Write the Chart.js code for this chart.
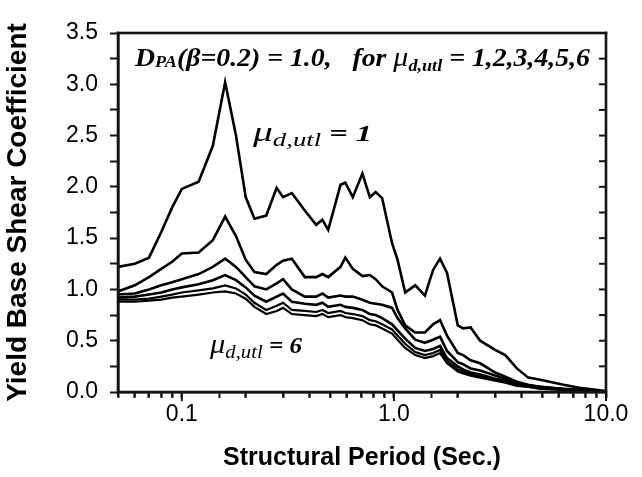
<!DOCTYPE html>
<html>
<head>
<meta charset="utf-8">
<script src="https://cdn.jsdelivr.net/npm/chart.js@4.4.1/dist/chart.umd.min.js"></script>
<style>
  html, body { margin: 0; padding: 0; background: #fff; }
</style>
</head>
<body>
<canvas id="my_chart" width="642" height="477"></canvas>
<script>
// Structural period (sec.) shared by all six curves
const periods = [0.05, 0.06, 0.07, 0.08, 0.09, 0.1, 0.12, 0.14, 0.16, 0.18, 0.2, 0.22, 0.25, 0.28, 0.3, 0.33,
  0.38, 0.43, 0.46, 0.49, 0.56, 0.59, 0.64, 0.71, 0.77, 0.82, 0.88, 0.98, 1.04, 1.13, 1.26, 1.4, 1.53, 1.65,
  1.78, 2.0, 2.12, 2.3, 2.55, 3.0, 3.35, 3.8, 4.3, 4.9, 6.3, 7.5, 10];

// Yield base shear coefficient, one array per ductility (mu = 1..6)
const mu1 = [1.22, 1.25, 1.31, 1.56, 1.80, 1.98, 2.05, 2.40, 3.02, 2.50, 1.90, 1.69, 1.72, 1.99, 1.90, 1.94,
  1.77, 1.63, 1.68, 1.58, 2.02, 2.04, 1.90, 2.13, 1.90, 1.95, 1.89, 1.45, 1.29, 0.97, 1.04, 0.94, 1.19, 1.30,
  1.16, 0.65, 0.62, 0.63, 0.50, 0.41, 0.36, 0.23, 0.14, 0.12, 0.07, 0.04, 0.01];
const mu2 = [0.98, 1.04, 1.12, 1.20, 1.27, 1.35, 1.36, 1.48, 1.71, 1.52, 1.29, 1.17, 1.15, 1.24, 1.28, 1.30,
  1.12, 1.12, 1.15, 1.12, 1.22, 1.31, 1.20, 1.13, 1.14, 1.10, 1.03, 0.97, 0.80, 0.65, 0.58, 0.58, 0.66, 0.70,
  0.55, 0.38, 0.36, 0.31, 0.28, 0.19, 0.15, 0.10, 0.07, 0.05, 0.03, 0.02, 0.0];
const mu3 = [0.95, 0.96, 1.00, 1.04, 1.07, 1.10, 1.15, 1.22, 1.30, 1.22, 1.12, 1.03, 1.00, 1.06, 1.10, 1.00,
  0.93, 0.93, 0.96, 0.92, 0.94, 0.93, 0.93, 0.90, 0.87, 0.86, 0.85, 0.82, 0.72, 0.62, 0.51, 0.48, 0.51, 0.54,
  0.40, 0.29, 0.27, 0.23, 0.21, 0.16, 0.13, 0.09, 0.06, 0.05, 0.03, 0.02, 0.0];
const mu4 = [0.92, 0.93, 0.95, 0.97, 1.00, 1.02, 1.05, 1.09, 1.14, 1.09, 1.02, 0.94, 0.88, 0.93, 0.96, 0.88,
  0.86, 0.85, 0.87, 0.83, 0.85, 0.83, 0.82, 0.80, 0.76, 0.75, 0.72, 0.66, 0.60, 0.52, 0.43, 0.40, 0.42, 0.45,
  0.33, 0.25, 0.22, 0.19, 0.17, 0.13, 0.11, 0.08, 0.06, 0.04, 0.03, 0.02, 0.0];
const mu5 = [0.90, 0.90, 0.91, 0.93, 0.95, 0.97, 0.99, 1.01, 1.04, 1.01, 0.95, 0.87, 0.80, 0.84, 0.87, 0.80,
  0.79, 0.78, 0.80, 0.77, 0.79, 0.77, 0.76, 0.74, 0.70, 0.69, 0.66, 0.61, 0.55, 0.47, 0.39, 0.36, 0.38, 0.41,
  0.30, 0.22, 0.20, 0.17, 0.15, 0.12, 0.10, 0.07, 0.05, 0.04, 0.02, 0.01, 0.0];
const mu6 = [0.88, 0.88, 0.89, 0.90, 0.92, 0.93, 0.95, 0.97, 0.98, 0.96, 0.91, 0.83, 0.76, 0.79, 0.82, 0.76,
  0.75, 0.74, 0.76, 0.73, 0.75, 0.73, 0.72, 0.70, 0.66, 0.65, 0.62, 0.57, 0.51, 0.43, 0.36, 0.33, 0.35, 0.38,
  0.28, 0.20, 0.18, 0.16, 0.14, 0.11, 0.09, 0.06, 0.05, 0.03, 0.02, 0.01, 0.0];

// axis tick labels
const xTickValues = [0.1, 1, 10];
const xTickLabels = ['0.1', '1.0', '10.0'];
const yTickLabels = ['0.0', '0.5', '1.0', '1.5', '2.0', '2.5', '3.0', '3.5'];

const curves = [mu1, mu2, mu3, mu4, mu5, mu6];

const ink = '#141414';
const serif = '"Liberation Serif", serif';

// draw text made of pieces (normal / subscript), squeezed to a given width
function drawRich(ctx, x, y, width, parts) {
  let total = 0;
  parts.forEach(p => { ctx.font = p.font; total += ctx.measureText(p.text).width; });
  ctx.save();
  ctx.translate(x, y);
  ctx.scale(width / total, 1);
  let cx = 0;
  parts.forEach(p => {
    ctx.font = p.font;
    ctx.fillText(p.text, cx, p.dy || 0);
    cx += ctx.measureText(p.text).width;
  });
  ctx.restore();
}

// box round the plot with its tick marks
function drawFrame(chart) {
  const ctx = chart.ctx;
  const {left, right, top, bottom} = chart.chartArea;
  const x = chart.scales.x;
  const y = chart.scales.y;
  ctx.save();
  ctx.fillStyle = ink;
  const w = 2.6;
  ctx.fillRect(left - w / 2, top - w / 2, right - left + w, w);
  ctx.fillRect(left - w / 2, bottom - w / 2, right - left + w, w);
  ctx.fillRect(left - w / 2, top - w / 2, w, bottom - top + w);
  ctx.fillRect(right - w / 2, top - w / 2, w, bottom - top + w);
  for (let i = 0; i <= 14; i++) {
    const py = y.getPixelForValue(i * 0.25);
    ctx.fillRect(right - 7, py - 1, 7, 2);
  }
  [0.01, 0.1, 1, 10].forEach(dec => {
    for (let k = 1; k <= 9; k++) {
      const t = dec * k;
      if (t < 0.0499 || t > 10.001) continue;
      ctx.fillRect(x.getPixelForValue(t) - 1, bottom, 2, k === 1 ? 9 : 5);
    }
  });
  ctx.restore();
}

const notesPlugin = {
  id: 'notes',
  afterDraw(chart) {
    const ctx = chart.ctx;
    ctx.save();
    ctx.fillStyle = '#000';
    ctx.textBaseline = 'alphabetic';
    const big = 'italic bold 26px ' + serif;
    const sub = 'italic bold 17px ' + serif;
    const mu = 'italic 28px ' + serif;
    drawRich(ctx, 135, 66, 455, [
      {text: 'D', font: big},
      {text: 'PA', font: sub, dy: 1},
      {text: '(β=0.2) = 1.0,   for ', font: big},
      {text: 'μ', font: mu},
      {text: 'd,utl', font: sub, dy: 5},
      {text: ' = 1,2,3,4,5,6', font: big}
    ]);
    const big2 = 'italic bold 23px ' + serif;
    const sub2 = 'italic 19px ' + serif;
    drawRich(ctx, 253, 141, 119, [
      {text: 'μ', font: mu},
      {text: 'd,utl', font: sub2, dy: 5},
      {text: ' = 1', font: big2}
    ]);
    drawRich(ctx, 210, 353, 92, [
      {text: 'μ', font: mu},
      {text: 'd,utl', font: sub2, dy: 5},
      {text: ' = 6', font: big2}
    ]);
    ctx.restore();
    drawFrame(chart);
  }
};

const frameBorder = {display: true, color: ink, width: 2.6};

const myChart = new Chart(document.getElementById('my_chart'), {
  type: 'line',
  data: {
    datasets: curves.map((vals, i) => ({
      label: 'mu = ' + (i + 1),
      data: periods.map((t, j) => ({x: t, y: vals[j]})),
      borderColor: '#000',
      borderWidth: i < 4 ? 2.6 : 2.2,
      pointRadius: 0,
      tension: 0,
      fill: false
    }))
  },
  options: {
    responsive: false,
    animation: false,
    layout: {padding: {top: 33, right: 36, left: 0, bottom: 0}},
    plugins: {legend: {display: false}, tooltip: {enabled: false}},
    scales: {
      x: {
        type: 'logarithmic',
        min: 0.05,
        max: 10,
        afterFit: s => { s.height = 85; },
        grid: {drawOnChartArea: false, tickLength: 6, tickColor: ink, tickWidth: 2},
        border: frameBorder,
        ticks: {
          autoSkip: false,
          maxRotation: 0,
          padding: 3,
          color: '#000',
          font: {family: 'Liberation Sans', size: 23},
          callback: v => {
            const i = xTickValues.findIndex(t => Math.abs(t - v) < 1e-6 * t);
            return i < 0 ? '' : xTickLabels[i];
          }
        },
        title: {
          display: true,
          text: 'Structural Period (Sec.)',
          color: '#000',
          font: {family: 'Liberation Sans', size: 25, weight: 'bold'},
          padding: {top: 0, bottom: 4}
        }
      },
      y: {
        min: 0,
        max: 3.5,
        afterFit: s => { s.width = 118; },
        grid: {drawOnChartArea: false, tickLength: 8, tickColor: ink, tickWidth: 2},
        border: frameBorder,
        ticks: {
          stepSize: 0.25,
          autoSkip: false,
          padding: 12,
          color: '#000',
          font: {family: 'Liberation Sans', size: 23},
          callback: v => {
            const k = Math.round(v * 2);
            return Math.abs(v * 2 - k) < 1e-6 ? yTickLabels[k] : '';
          }
        },
        title: {
          display: true,
          text: 'Yield Base Shear Coefficient',
          color: '#000',
          font: {family: 'Liberation Sans', size: 28, weight: 'bold'},
          padding: {top: 1, bottom: 0}
        }
      }
    }
  },
  plugins: [notesPlugin]
});
</script>
</body>
</html>
